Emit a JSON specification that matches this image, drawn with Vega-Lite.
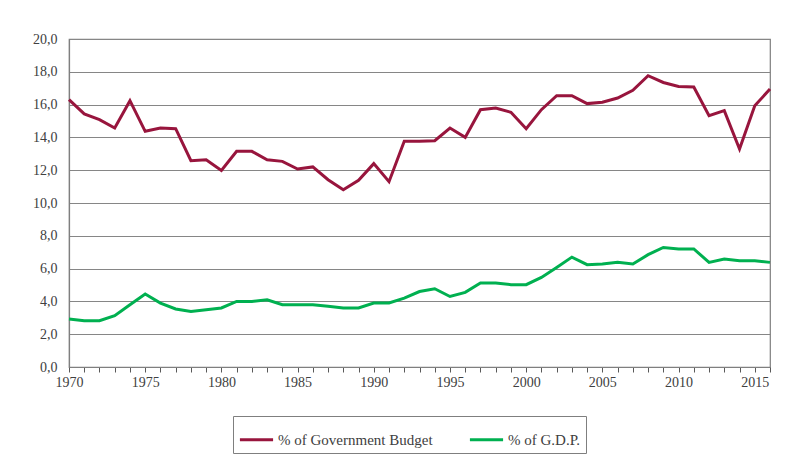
{
  "$schema": "https://vega.github.io/schema/vega-lite/v6.json",
  "width": 701,
  "height": 328,
  "autosize": {"type": "none"},
  "padding": {"left": 69, "top": 39, "right": 41, "bottom": 98},
  "background": "white",
  "config": {
    "view": {"stroke": "#7f7f7f", "strokeWidth": 1.2},
    "font": "Liberation Serif"
  },
  "data": {
    "values": [
      {"year": 1970, "series": "% of Government Budget", "value": 16.3},
      {"year": 1971, "series": "% of Government Budget", "value": 15.43},
      {"year": 1972, "series": "% of Government Budget", "value": 15.08},
      {"year": 1973, "series": "% of Government Budget", "value": 14.57},
      {"year": 1974, "series": "% of Government Budget", "value": 16.24},
      {"year": 1975, "series": "% of Government Budget", "value": 14.37},
      {"year": 1976, "series": "% of Government Budget", "value": 14.57},
      {"year": 1977, "series": "% of Government Budget", "value": 14.53},
      {"year": 1978, "series": "% of Government Budget", "value": 12.58},
      {"year": 1979, "series": "% of Government Budget", "value": 12.64},
      {"year": 1980, "series": "% of Government Budget", "value": 11.99},
      {"year": 1981, "series": "% of Government Budget", "value": 13.15},
      {"year": 1982, "series": "% of Government Budget", "value": 13.15},
      {"year": 1983, "series": "% of Government Budget", "value": 12.64},
      {"year": 1984, "series": "% of Government Budget", "value": 12.54},
      {"year": 1985, "series": "% of Government Budget", "value": 12.07},
      {"year": 1986, "series": "% of Government Budget", "value": 12.2},
      {"year": 1987, "series": "% of Government Budget", "value": 11.42},
      {"year": 1988, "series": "% of Government Budget", "value": 10.81},
      {"year": 1989, "series": "% of Government Budget", "value": 11.38},
      {"year": 1990, "series": "% of Government Budget", "value": 12.4},
      {"year": 1991, "series": "% of Government Budget", "value": 11.3},
      {"year": 1992, "series": "% of Government Budget", "value": 13.76},
      {"year": 1993, "series": "% of Government Budget", "value": 13.76},
      {"year": 1994, "series": "% of Government Budget", "value": 13.8},
      {"year": 1995, "series": "% of Government Budget", "value": 14.57},
      {"year": 1996, "series": "% of Government Budget", "value": 14.0},
      {"year": 1997, "series": "% of Government Budget", "value": 15.69},
      {"year": 1998, "series": "% of Government Budget", "value": 15.79},
      {"year": 1999, "series": "% of Government Budget", "value": 15.53},
      {"year": 2000, "series": "% of Government Budget", "value": 14.53},
      {"year": 2001, "series": "% of Government Budget", "value": 15.69},
      {"year": 2002, "series": "% of Government Budget", "value": 16.54},
      {"year": 2003, "series": "% of Government Budget", "value": 16.54},
      {"year": 2004, "series": "% of Government Budget", "value": 16.06},
      {"year": 2005, "series": "% of Government Budget", "value": 16.14},
      {"year": 2006, "series": "% of Government Budget", "value": 16.4},
      {"year": 2007, "series": "% of Government Budget", "value": 16.87},
      {"year": 2008, "series": "% of Government Budget", "value": 17.76},
      {"year": 2009, "series": "% of Government Budget", "value": 17.35},
      {"year": 2010, "series": "% of Government Budget", "value": 17.11},
      {"year": 2011, "series": "% of Government Budget", "value": 17.07},
      {"year": 2012, "series": "% of Government Budget", "value": 15.32},
      {"year": 2013, "series": "% of Government Budget", "value": 15.63},
      {"year": 2014, "series": "% of Government Budget", "value": 13.29},
      {"year": 2015, "series": "% of Government Budget", "value": 15.93},
      {"year": 2016, "series": "% of Government Budget", "value": 16.95},
      {"year": 1970, "series": "% of G.D.P.", "value": 2.93},
      {"year": 1971, "series": "% of G.D.P.", "value": 2.82},
      {"year": 1972, "series": "% of G.D.P.", "value": 2.82},
      {"year": 1973, "series": "% of G.D.P.", "value": 3.13},
      {"year": 1974, "series": "% of G.D.P.", "value": 3.8},
      {"year": 1975, "series": "% of G.D.P.", "value": 4.45},
      {"year": 1976, "series": "% of G.D.P.", "value": 3.9},
      {"year": 1977, "series": "% of G.D.P.", "value": 3.54},
      {"year": 1978, "series": "% of G.D.P.", "value": 3.39},
      {"year": 1979, "series": "% of G.D.P.", "value": 3.49},
      {"year": 1980, "series": "% of G.D.P.", "value": 3.6},
      {"year": 1981, "series": "% of G.D.P.", "value": 4.0},
      {"year": 1982, "series": "% of G.D.P.", "value": 4.0},
      {"year": 1983, "series": "% of G.D.P.", "value": 4.1},
      {"year": 1984, "series": "% of G.D.P.", "value": 3.8},
      {"year": 1985, "series": "% of G.D.P.", "value": 3.8},
      {"year": 1986, "series": "% of G.D.P.", "value": 3.8},
      {"year": 1987, "series": "% of G.D.P.", "value": 3.7},
      {"year": 1988, "series": "% of G.D.P.", "value": 3.6},
      {"year": 1989, "series": "% of G.D.P.", "value": 3.6},
      {"year": 1990, "series": "% of G.D.P.", "value": 3.9},
      {"year": 1991, "series": "% of G.D.P.", "value": 3.9},
      {"year": 1992, "series": "% of G.D.P.", "value": 4.2},
      {"year": 1993, "series": "% of G.D.P.", "value": 4.6},
      {"year": 1994, "series": "% of G.D.P.", "value": 4.77},
      {"year": 1995, "series": "% of G.D.P.", "value": 4.3},
      {"year": 1996, "series": "% of G.D.P.", "value": 4.55},
      {"year": 1997, "series": "% of G.D.P.", "value": 5.12},
      {"year": 1998, "series": "% of G.D.P.", "value": 5.12},
      {"year": 1999, "series": "% of G.D.P.", "value": 5.02},
      {"year": 2000, "series": "% of G.D.P.", "value": 5.02},
      {"year": 2001, "series": "% of G.D.P.", "value": 5.46},
      {"year": 2002, "series": "% of G.D.P.", "value": 6.07},
      {"year": 2003, "series": "% of G.D.P.", "value": 6.7},
      {"year": 2004, "series": "% of G.D.P.", "value": 6.24},
      {"year": 2005, "series": "% of G.D.P.", "value": 6.28},
      {"year": 2006, "series": "% of G.D.P.", "value": 6.38},
      {"year": 2007, "series": "% of G.D.P.", "value": 6.28},
      {"year": 2008, "series": "% of G.D.P.", "value": 6.85},
      {"year": 2009, "series": "% of G.D.P.", "value": 7.29},
      {"year": 2010, "series": "% of G.D.P.", "value": 7.2},
      {"year": 2011, "series": "% of G.D.P.", "value": 7.2},
      {"year": 2012, "series": "% of G.D.P.", "value": 6.38},
      {"year": 2013, "series": "% of G.D.P.", "value": 6.58},
      {"year": 2014, "series": "% of G.D.P.", "value": 6.48},
      {"year": 2015, "series": "% of G.D.P.", "value": 6.48},
      {"year": 2016, "series": "% of G.D.P.", "value": 6.38}
    ]
  },
  "mark": {"type": "line", "strokeWidth": 3, "clip": false},
  "encoding": {
    "x": {
      "field": "year",
      "type": "quantitative",
      "scale": {"domain": [1970, 2016], "nice": false, "zero": false},
      "axis": {
        "title": null,
        "grid": false,
        "values": [1970,1971,1972,1973,1974,1975,1976,1977,1978,1979,1980,1981,1982,1983,1984,1985,1986,1987,1988,1989,1990,1991,1992,1993,1994,1995,1996,1997,1998,1999,2000,2001,2002,2003,2004,2005,2006,2007,2008,2009,2010,2011,2012,2013,2014,2015,2016],
        "labelExpr": "datum.value % 5 == 0 ? '' + datum.value : ''",
        "labelFlush": false,
        "labelOverlap": false,
        "tickSize": 5,
        "tickColor": "#595959",
        "domainColor": "#7f7f7f",
        "domainWidth": 1.2,
        "labelFontSize": 14,
        "labelColor": "#404040",
        "labelPadding": 3,
        "labelFont": "Liberation Serif"
      }
    },
    "y": {
      "field": "value",
      "type": "quantitative",
      "scale": {"domain": [0, 20], "nice": false},
      "axis": {
        "title": null,
        "values": [0, 2, 4, 6, 8, 10, 12, 14, 16, 18, 20],
        "labelExpr": "replace(format(datum.value, '.1f'), '.', ',')",
        "ticks": false,
        "grid": true,
        "gridColor": "#868686",
        "gridWidth": 1.2,
        "domainColor": "#7f7f7f",
        "domainWidth": 1.2,
        "labelFontSize": 14,
        "labelColor": "#404040",
        "labelPadding": 12,
        "labelFont": "Liberation Serif"
      }
    },
    "color": {
      "field": "series",
      "type": "nominal",
      "sort": ["% of Government Budget", "% of G.D.P."],
      "scale": {"domain": ["% of Government Budget", "% of G.D.P."], "range": ["#98153d", "#00b050"]},
      "legend": {
        "title": null,
        "orient": "none",
        "direction": "horizontal",
        "legendX": 164,
        "legendY": 377,
        "symbolType": "stroke",
        "symbolSize": 1100,
        "symbolStrokeWidth": 3,
        "labelFontSize": 15,
        "labelFont": "Liberation Serif",
        "labelColor": "#404040",
        "labelOffset": 3,
        "columnPadding": 30,
        "padding": 5,
        "strokeColor": "#7f7f7f",
        "fillColor": "white",
        "labelLimit": 400
      }
    }
  }
}
